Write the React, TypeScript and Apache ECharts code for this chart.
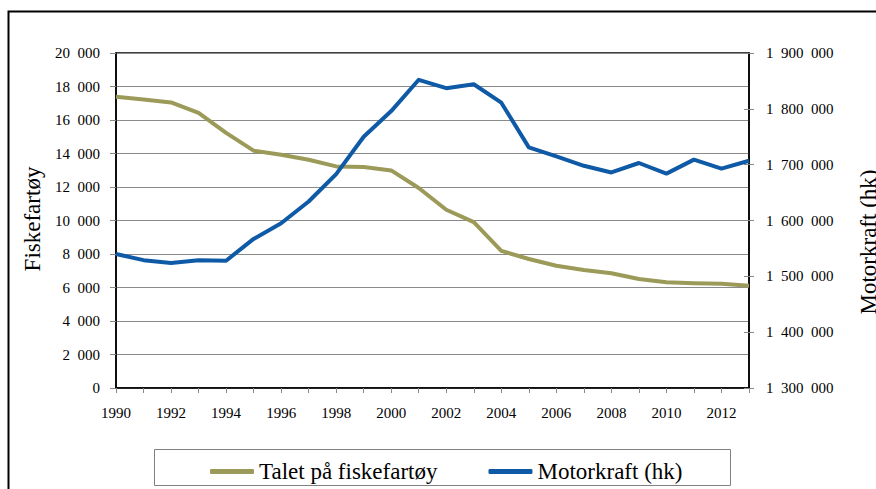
import React, { useEffect, useRef } from "react";
import * as echarts from "echarts";

const years: string[] = [
  "1990", "1991", "1992", "1993", "1994", "1995", "1996", "1997", "1998", "1999", "2000", "2001",
  "2002", "2003", "2004", "2005", "2006", "2007", "2008", "2009", "2010", "2011", "2012", "2013",
];
const vessels: number[] = [
  17390, 17230, 17050, 16430, 15230, 14170, 13930, 13630, 13230, 13200, 12990, 11940,
  10640, 9900, 8190, 7700, 7300, 7050, 6850, 6510, 6310, 6250, 6220, 6110,
];
const power: number[] = [
  1540000, 1529000, 1524000, 1529000, 1528000, 1567000, 1595000, 1634000, 1683000, 1750000, 1796000, 1852000,
  1837000, 1844000, 1811000, 1731000, 1715000, 1698000, 1686000, 1703000, 1684000, 1709000, 1693000, 1707000,
];
const seriesNames: string[] = ["Talet på fiskefartøy", "Motorkraft (hk)"];
const leftTitle = "Fiskefartøy";
const rightTitle = "Motorkraft (hk)";

const FONT = '"Liberation Serif", "DejaVu Serif", serif';
const fmt = (v: number) => {
  const s = Math.round(v).toString();
  return s.replace(/\B(?=(\d{3})+(?!\d))/g, "\u2007");
};

export default function App() {
  const ref = useRef<HTMLDivElement>(null);
  useEffect(() => {
    if (!ref.current) return;
    const chart = echarts.init(ref.current, undefined, { renderer: "svg" });
    const labelStyle = { color: "#000", fontFamily: FONT, fontSize: 15 };
    chart.setOption({
      animation: false,
      backgroundColor: "#fff",
      textStyle: { fontFamily: FONT, color: "#000" },
      grid: {
        left: 116,
        top: 53,
        right: 127,
        bottom: 101,
        show: true,
        borderColor: "#000",
        borderWidth: 1.5,
        backgroundColor: "transparent",
      },
      legend: {
        left: 205,
        top: 455,
        itemWidth: 44,
        itemHeight: 5,
        itemGap: 51,
        icon: "roundRect",
        textStyle: { color: "#000", fontFamily: FONT, fontSize: 23 },
        data: seriesNames,
      },
      xAxis: {
        type: "category",
        data: years,
        boundaryGap: false,
        axisLine: { lineStyle: { color: "#000", width: 1.5 } },
        axisTick: { show: true, interval: 0, length: 5, lineStyle: { color: "#888" } },
        axisLabel: { ...labelStyle, interval: 1, margin: 17 },
        splitLine: { show: false },
      },
      yAxis: [
        {
          type: "value",
          min: 0,
          max: 20000,
          interval: 2000,
          position: "left",
          axisLine: { show: true, lineStyle: { color: "#000", width: 1.5 } },
          axisTick: { show: true, length: 6, lineStyle: { color: "#888" } },
          axisLabel: { ...labelStyle, margin: 16, formatter: (v: number) => fmt(v) },
          splitLine: { show: true, lineStyle: { color: "#8a8a8a", width: 1 } },
        },
        {
          type: "value",
          min: 1300000,
          max: 1900000,
          interval: 100000,
          position: "right",
          axisLine: { show: true, lineStyle: { color: "#000", width: 1.5 } },
          axisTick: { show: true, length: 5, lineStyle: { color: "#888" } },
          axisLabel: { ...labelStyle, margin: 17, formatter: (v: number) => fmt(v) },
          splitLine: { show: false },
        },
        {
          type: "value",
          min: 1300000,
          max: 1900000,
          interval: 100000,
          position: "right",
          axisLine: { show: false },
          axisTick: { show: true, inside: true, length: 5, lineStyle: { color: "#888" } },
          axisLabel: { show: false },
          splitLine: { show: false },
        },
      ],
      series: [
        {
          name: seriesNames[0],
          type: "line",
          data: vessels,
          yAxisIndex: 0,
          symbol: "none",
          color: "#9c9a58",
          lineStyle: { width: 4, color: "#9c9a58", join: "round" },
        },
        {
          name: seriesNames[1],
          type: "line",
          data: power,
          yAxisIndex: 1,
          symbol: "none",
          color: "#0f5aa6",
          lineStyle: { width: 4, color: "#0f5aa6", join: "round" },
        },
      ],
      graphic: [
        {
          type: "rect",
          shape: { x: 8.5, y: 11.5, width: 900, height: 500 },
          style: { fill: "none", stroke: "#000", lineWidth: 2 },
          silent: true,
        },
        {
          type: "rect",
          shape: { x: 154.5, y: 449.5, width: 576, height: 36 },
          style: { fill: "none", stroke: "#808080", lineWidth: 1 },
          silent: true,
        },
        {
          type: "text",
          x: 32,
          y: 219,
          rotation: Math.PI / 2,
          style: {
            text: leftTitle,
            fill: "#000",
            fontFamily: FONT,
            fontSize: 23,
            align: "center",
            verticalAlign: "middle",
          },
        },
        {
          type: "text",
          x: 868,
          y: 242,
          rotation: Math.PI / 2,
          style: {
            text: rightTitle,
            fill: "#000",
            fontFamily: FONT,
            fontSize: 23,
            align: "center",
            verticalAlign: "middle",
          },
        },
      ],
    });
    return () => chart.dispose();
  }, []);
  return (
    <div
      ref={ref}
      style={{ position: "fixed", left: 0, top: 0, width: 876, height: 489, background: "#fff" }}
    />
  );
}
